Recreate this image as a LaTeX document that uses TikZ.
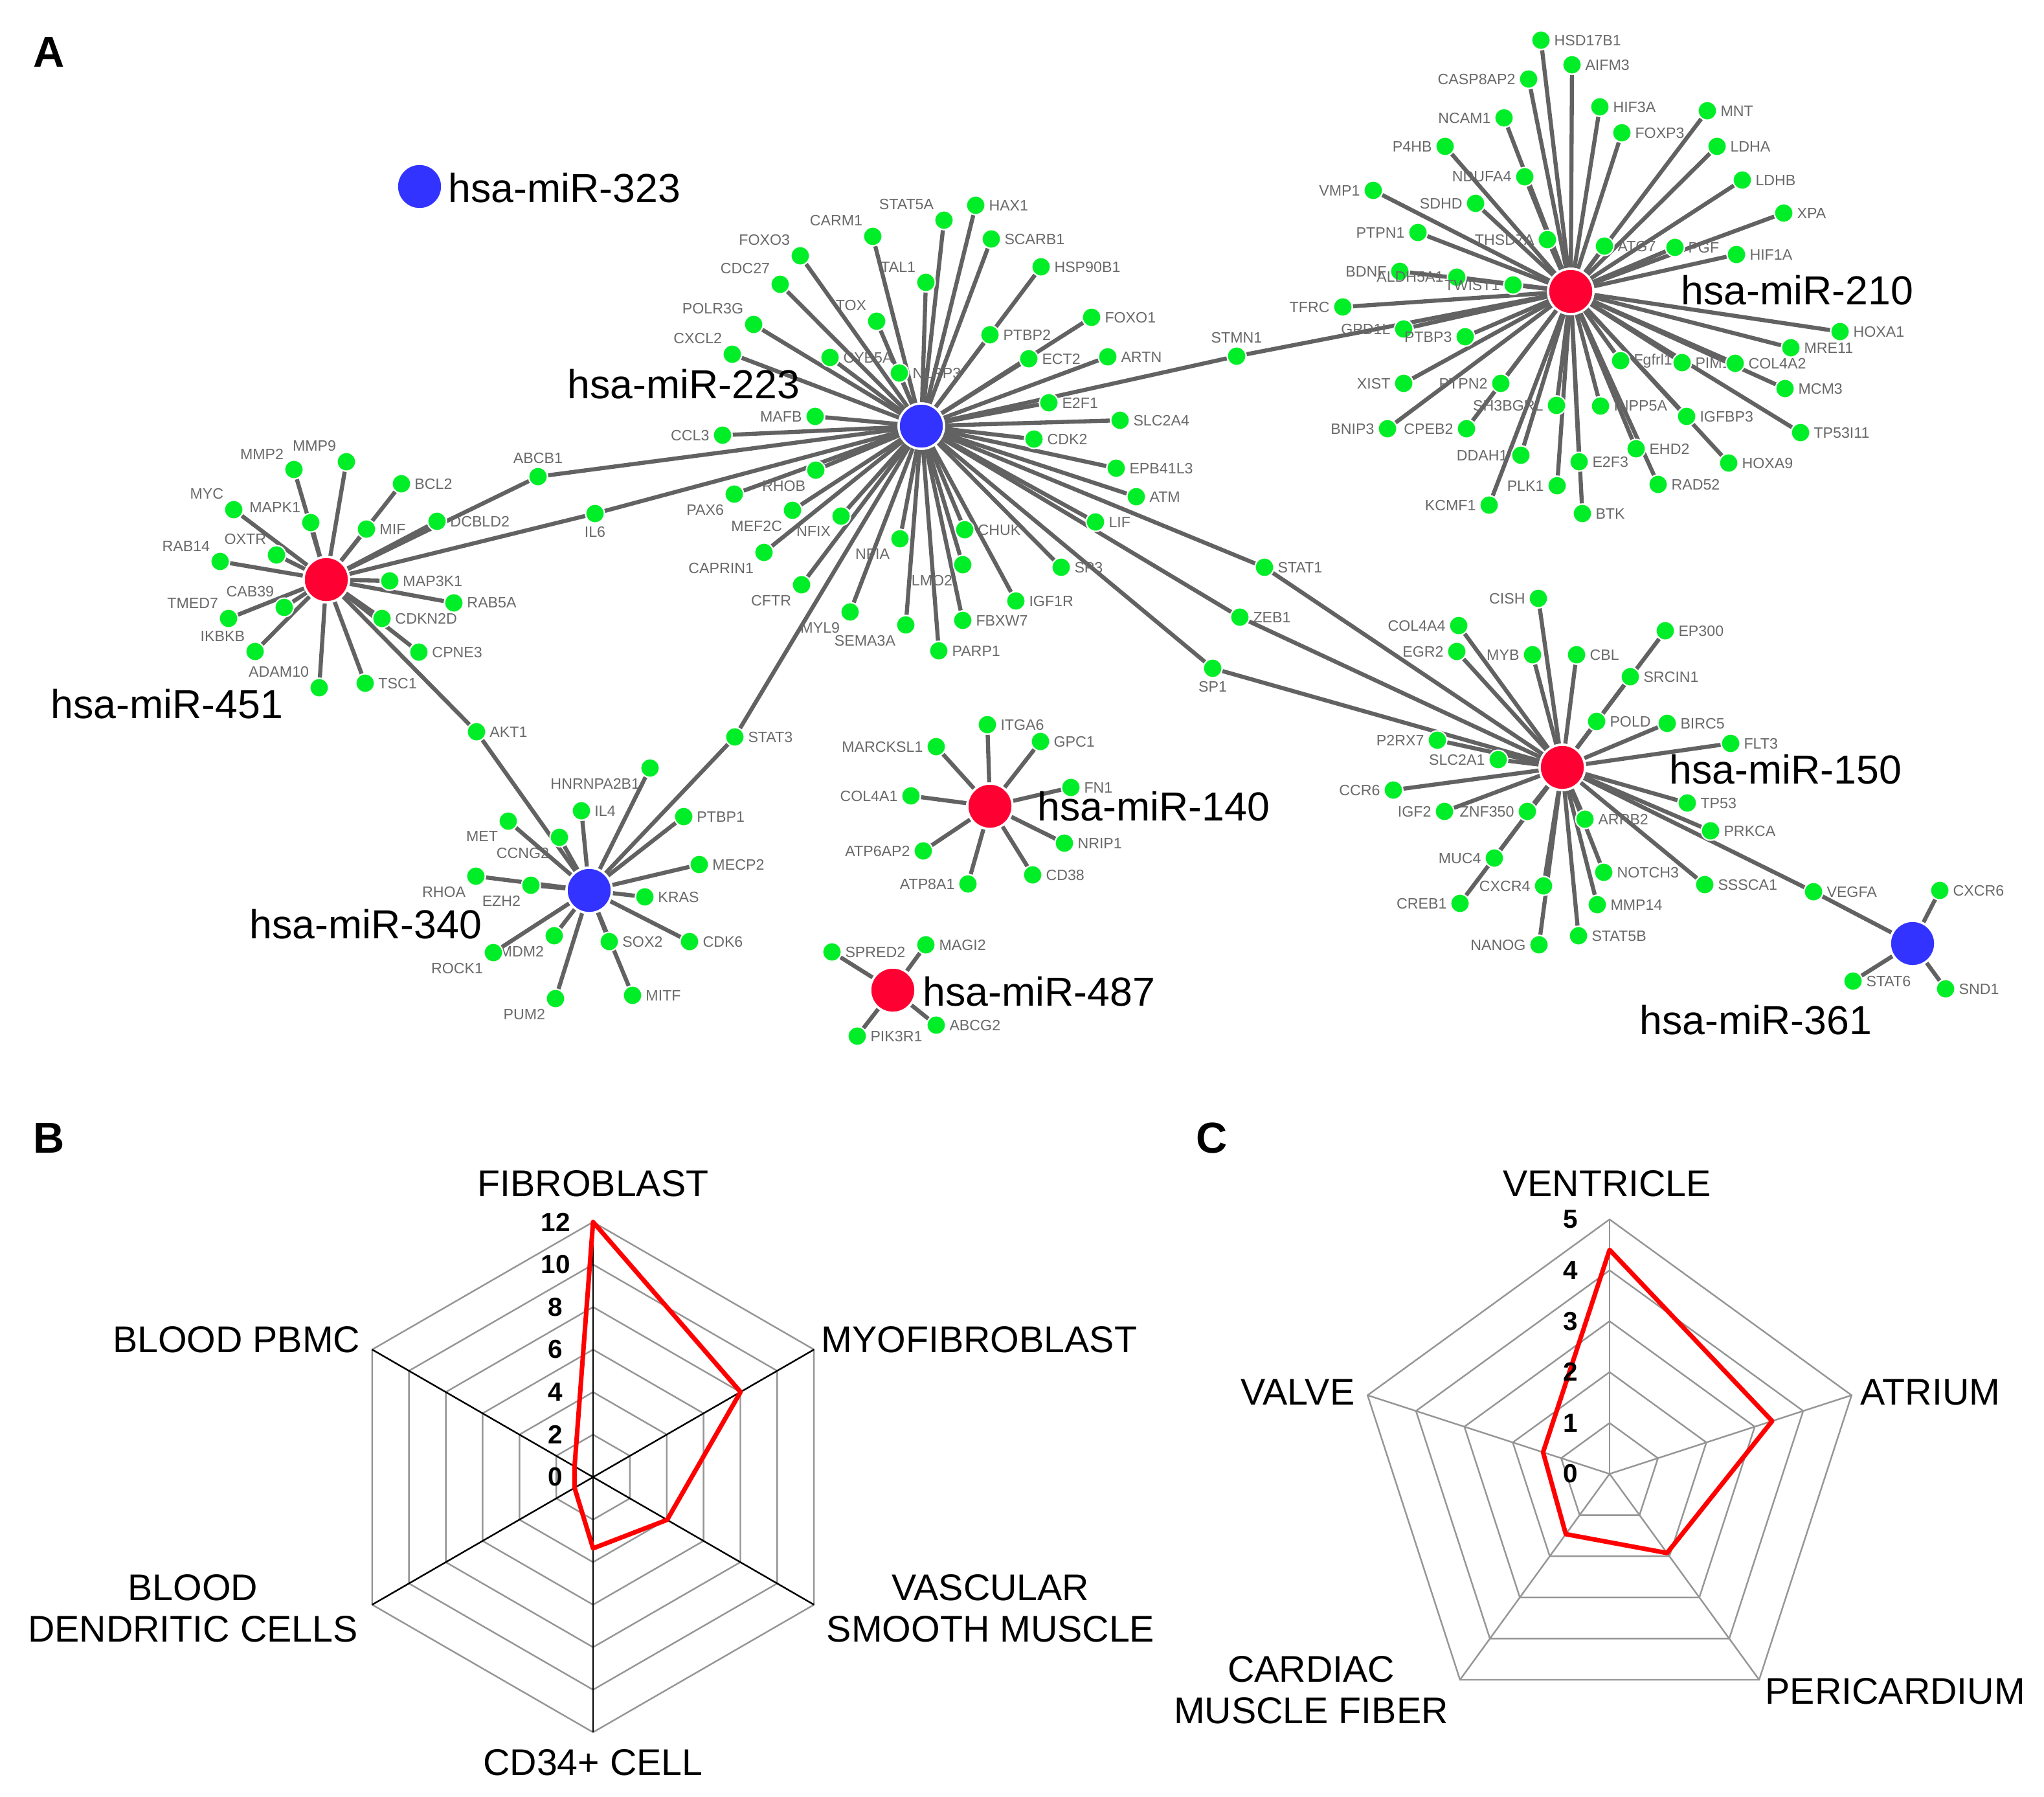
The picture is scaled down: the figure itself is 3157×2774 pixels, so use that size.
\documentclass[tikz,border=0pt]{standalone}
\usepackage{fontspec}
\setmainfont{Liberation Sans}
\usetikzlibrary{backgrounds}
\definecolor{gnode}{RGB}{0,238,40}
\definecolor{rnode}{RGB}{255,0,51}
\definecolor{bnode}{RGB}{51,51,255}
\definecolor{egray}{RGB}{98,98,98}
\definecolor{tgray}{RGB}{105,105,105}
\definecolor{rgray}{RGB}{150,150,150}
\begin{document}
\begin{tikzpicture}[x=0.01cm, y=-0.01cm,
    gene/.style={circle, fill=gnode, draw=white, line width=0.6pt, minimum size=0.29cm, inner sep=0pt},
    glbl/.style={text=tgray, font=\fontsize{6.6}{7}\selectfont, inner sep=1.2pt},
    hubR/.style={circle, fill=rnode, draw=white, line width=1pt, minimum size=0.7cm, inner sep=0pt},
    hubB/.style={hubR, fill=bnode},
    hubtxt/.style={font=\fontsize{17.8}{20}\selectfont, inner sep=0pt},
    link/.style={draw=egray, line width=1.8pt},
    panel/.style={font=\fontsize{19}{22}\selectfont\bfseries, inner sep=0pt},
    ring/.style={draw=rgray, line width=0.7pt},
    spoke/.style={draw=black, line width=0.7pt},
    val/.style={draw=red, line width=2pt, line join=round},
    axtxt/.style={font=\fontsize{16.3}{18.3}\selectfont, inner sep=0pt, align=center},
    num/.style={font=\fontsize{11.5}{13}\selectfont\bfseries, inner sep=0pt}]
\useasboundingbox (0,0) rectangle (3157,2774);

% panel A: network
\node[panel] (pA) at (76,80) {A};
\node[hubB] (m323) at (648,288) {};
\node[hubR] (m451) at (504,895) {};
\node[hubB] (m223) at (1423,658) {};
\node[hubR] (m210) at (2426,450) {};
\node[hubR] (m150) at (2413,1185) {};
\node[hubB] (m361) at (2954,1457) {};
\node[hubB] (m340) at (910,1375) {};
\node[hubR] (m140) at (1529,1245) {};
\node[hubR] (m487) at (1379,1529) {};

\node[hubtxt] (t323) at (872,290) {hsa-miR-323};
\node[hubtxt] (t451) at (258,1087) {hsa-miR-451};
\node[hubtxt] (t223) at (1056,593) {hsa-miR-223};
\node[hubtxt] (t210) at (2776,448) {hsa-miR-210};
\node[hubtxt] (t150) at (2758,1188) {hsa-miR-150};
\node[hubtxt] (t361) at (2712,1575) {hsa-miR-361};
\node[hubtxt] (t340) at (565,1427) {hsa-miR-340};
\node[hubtxt] (t140) at (1782,1245) {hsa-miR-140};
\node[hubtxt] (t487) at (1605,1531) {hsa-miR-487};

% targets
\foreach \g/\x/\y/\p in {MMP2/454/725/above left, MMP9/535/713/above left, BCL2/620/747/right,
    MYC/361/787/above left, MAPK1/480/807/above left, MIF/566/817/right, DCBLD2/675/805/right,
    ABCB1/831/736/above, IL6/919/793/below, RAB14/340/867/above left, OXTR/427/857/above left,
    MAP3K1/602/897/right, RAB5A/701/931/right, CAB39/439/938/above left, TMED7/353/955/above left,
    CDKN2D/590/955/right, IKBKB/394/1006/above left, CPNE3/647/1007/right,
    ADAM10/493/1062/above left, TSC1/564/1055/right, AKT1/736/1130/right}
  \node[gene, label={[glbl]\p:\g}] (\g) at (\x,\y) {};
\foreach \g/\x/\y/\p in {FOXO3/1236/395/above left, CARM1/1348/365/above left, CDC27/1205/439/above left,
    TOX/1354/496/above left, POLR3G/1164/501/above left, CXCL2/1131/547/above left,
    CYB5A/1282/552/right, NLRP3/1389/576/right, MAFB/1259/643/left, CCL3/1116/672/left,
    STAT5A/1458/340/above left, HAX1/1507/317/right, SCARB1/1531/369/right, TAL1/1430/436/above left,
    HSP90B1/1608/412/right, FOXO1/1686/490/right, PTBP2/1529/517/right, ECT2/1589/554/right,
    ARTN/1711/551/right, STMN1/1910/550/above, E2F1/1620/622/right, SLC2A4/1730/649/right,
    CDK2/1597/678/right, EPB41L3/1724/723/right, ATM/1755/767/right, RHOB/1260/726/below left,
    PAX6/1134/763/below left, MEF2C/1224/788/below left, NFIX/1299/797/below left,
    CAPRIN1/1180/853/below left, NFIA/1390/832/below left, CFTR/1238/903/below left,
    LMO2/1487/872/below left, MYL9/1313/945/below left, SEMA3A/1399/965/below left,
    CHUK/1490/818/right, FBXW7/1487/958/right, PARP1/1450/1005/right, IGF1R/1569/928/right,
    SP3/1639/876/right, LIF/1692/806/right, STAT1/1953/876/right, ZEB1/1915/953/right,
    SP1/1873/1032/below, STAT3/1135/1138/right}
  \node[gene, label={[glbl]\p:\g}] (\g) at (\x,\y) {};
\foreach \g/\x/\y/\p in {HSD17B1/2380/62/right, AIFM3/2428/100/right, CASP8AP2/2361/122/left,
    HIF3A/2471/165/right, NCAM1/2323/182/left, FOXP3/2505/205/right, P4HB/2232/226/left,
    NDUFA4/2355/273/left, VMP1/2121/294/left, SDHD/2279/314/left, PTPN1/2190/359/left,
    THSD7A/2390/370/left, ATG7/2478/380/right, MNT/2637/171/right, LDHA/2652/226/right,
    LDHB/2691/278/right, XPA/2755/329/right, PGF/2587/382/right, HIF1A/2682/393/right,
    BDNF/2162/419/left, ALDH5A1/2250/428/left, TWIST1/2337/440/left, TFRC/2074/474/left,
    GPD1L/2168/508/left, PTBP3/2263/520/left, XIST/2168/592/left, PTPN2/2318/592/left,
    SH3BGRL/2404/626/left, INPP5A/2472/627/right, Fgfrl1/2503/557/right, PIM1/2598/560/right,
    COL4A2/2680/561/right, HOXA1/2842/512/right, MRE11/2766/537/right, MCM3/2757/600/right,
    BNIP3/2143/662/left, CPEB2/2265/662/left, IGFBP3/2605/643/right, TP53I11/2781/668/right,
    DDAH1/2349/703/left, E2F3/2439/713/right, EHD2/2527/693/right, HOXA9/2670/715/right,
    PLK1/2405/750/left, RAD52/2561/748/right, KCMF1/2300/780/left, BTK/2444/793/right}
  \node[gene, label={[glbl]\p:\g}] (\g) at (\x,\y) {};
\foreach \g/\x/\y/\p in {CISH/2376/924/left, COL4A4/2253/966/left, EGR2/2250/1006/left,
    MYB/2367/1011/left, CBL/2435/1011/right, EP300/2572/974/right, SRCIN1/2518/1045/right,
    POLD/2466/1114/right, BIRC5/2575/1117/right, FLT3/2673/1148/right, P2RX7/2220/1143/left,
    SLC2A1/2314/1173/left, CCR6/2152/1220/left, TP53/2606/1240/right, IGF2/2231/1253/left,
    ZNF350/2359/1253/left, ARRB2/2448/1265/right, PRKCA/2642/1283/right, MUC4/2308/1325/left,
    NOTCH3/2477/1347/right, SSSCA1/2633/1366/right, VEGFA/2801/1377/right, CXCR4/2384/1368/left,
    CREB1/2255/1395/left, MMP14/2467/1397/right, STAT5B/2438/1445/right, NANOG/2377/1459/left,
    CXCR6/2996/1375/right, STAT6/2862/1515/right, SND1/3005/1527/right}
  \node[gene, label={[glbl]\p:\g}] (\g) at (\x,\y) {};
\foreach \g/\x/\y/\p in {HNRNPA2B1/1004/1186/below left, IL4/898/1252/right, PTBP1/1056/1261/right,
    MET/785/1268/below left, CCNG2/864/1293/below left, MECP2/1080/1335/right,
    RHOA/735/1353/below left, EZH2/820/1367/below left, KRAS/996/1385/right,
    MDM2/856/1445/below left, ROCK1/762/1471/below left, SOX2/941/1454/right,
    CDK6/1065/1454/right, PUM2/858/1542/below left, MITF/977/1537/right,
    ITGA6/1525/1119/right, MARCKSL1/1446/1153/left, GPC1/1607/1145/right, COL4A1/1407/1229/left,
    FN1/1654/1216/right, ATP6AP2/1426/1314/left, NRIP1/1644/1302/right, ATP8A1/1495/1365/left,
    CD38/1595/1351/right, SPRED2/1285/1470/right, MAGI2/1430/1459/right,
    ABCG2/1446/1583/right, PIK3R1/1324/1600/right}
  \node[gene, label={[glbl]\p:\g}] (\g) at (\x,\y) {};

\begin{pgfonlayer}{background}
\foreach \g in {MMP2, MMP9, BCL2, MYC, MAPK1, MIF, DCBLD2, ABCB1, IL6, RAB14, OXTR, MAP3K1,
    RAB5A, CAB39, TMED7, CDKN2D, IKBKB, CPNE3, ADAM10, TSC1, AKT1}
  \draw[link] (m451) -- (\g);
\foreach \g in {FOXO3, CARM1, CDC27, TOX, POLR3G, CXCL2, CYB5A, NLRP3, MAFB, CCL3, STAT5A, HAX1,
    SCARB1, TAL1, HSP90B1, FOXO1, PTBP2, ECT2, ARTN, STMN1, E2F1, SLC2A4, CDK2, EPB41L3, ATM,
    RHOB, PAX6, MEF2C, NFIX, CAPRIN1, NFIA, CFTR, LMO2, MYL9, SEMA3A, CHUK, FBXW7, PARP1,
    IGF1R, SP3, LIF, STAT1, ZEB1, SP1, STAT3, ABCB1, IL6}
  \draw[link] (m223) -- (\g);
\foreach \g in {HSD17B1, AIFM3, CASP8AP2, HIF3A, NCAM1, FOXP3, P4HB, NDUFA4, VMP1, SDHD, PTPN1,
    THSD7A, ATG7, MNT, LDHA, LDHB, XPA, PGF, HIF1A, BDNF, ALDH5A1, TWIST1, TFRC, GPD1L, PTBP3,
    XIST, PTPN2, SH3BGRL, INPP5A, Fgfrl1, PIM1, COL4A2, HOXA1, MRE11, MCM3, BNIP3, CPEB2,
    IGFBP3, TP53I11, DDAH1, E2F3, EHD2, HOXA9, PLK1, RAD52, KCMF1, BTK, STMN1}
  \draw[link] (m210) -- (\g);
\foreach \g in {CISH, COL4A4, EGR2, MYB, CBL, EP300, SRCIN1, POLD, BIRC5, FLT3, P2RX7, SLC2A1,
    CCR6, TP53, IGF2, ZNF350, ARRB2, PRKCA, MUC4, NOTCH3, SSSCA1, VEGFA, CXCR4, CREB1,
    MMP14, STAT5B, NANOG, STAT1, ZEB1, SP1}
  \draw[link] (m150) -- (\g);
\foreach \g in {CXCR6, STAT6, SND1, VEGFA}
  \draw[link] (m361) -- (\g);
\foreach \g in {HNRNPA2B1, IL4, PTBP1, MET, CCNG2, MECP2, RHOA, EZH2, KRAS, MDM2, ROCK1, SOX2,
    CDK6, PUM2, MITF, AKT1, STAT3}
  \draw[link] (m340) -- (\g);
\foreach \g in {ITGA6, MARCKSL1, GPC1, COL4A1, FN1, ATP6AP2, NRIP1, ATP8A1, CD38}
  \draw[link] (m140) -- (\g);
\foreach \g in {SPRED2, MAGI2, ABCG2, PIK3R1}
  \draw[link] (m487) -- (\g);
\end{pgfonlayer}

% panel B: cell types
\node[panel] (pB) at (76,1757) {B};
\begin{scope}[shift={(916,2281)}, y=0.01cm]
  \foreach \k in {1,...,6} {
    \pgfmathsetmacro\r{\k*394/6}
    \draw[ring] (90:\r) -- (30:\r) -- (-30:\r) -- (-90:\r) -- (-150:\r) -- (150:\r) -- cycle;
  }
  \draw[spoke] (90:394) -- (-90:394);
  \draw[spoke] (150:394) -- (-30:394);
  \draw[spoke] (30:394) -- (-150:394);
  \draw[val] (90:394) -- (30:263) -- (-30:132) -- (-90:110) -- (-150:33) -- (150:33) -- cycle;
  \foreach \k in {0,...,6} {
    \pgfmathtruncatemacro\v{2*\k}
    \node[num] (bn\k) at (-58,\k*65.67) {\v};
  }
\end{scope}
\node[axtxt] (bFib) at (916,1828) {FIBROBLAST};
\node[axtxt, anchor=west] (bMyo) at (1268,2069) {MYOFIBROBLAST};
\node[axtxt] (bVsm) at (1530,2484) {VASCULAR\\SMOOTH MUSCLE};
\node[axtxt] (bCd) at (916,2722) {CD34+ CELL};
\node[axtxt] (bDc) at (298,2484) {BLOOD\\DENDRITIC CELLS};
\node[axtxt, anchor=east] (bPb) at (557,2069) {BLOOD PBMC};

% panel C: heart regions
\node[panel] (pC) at (1872,1757) {C};
\begin{scope}[shift={(2486,2276)}, y=0.01cm]
  \foreach \k in {1,...,5} {
    \pgfmathsetmacro\r{\k*393/5}
    \draw[ring] (90:\r) -- (18:\r) -- (-54:\r) -- (-126:\r) -- (162:\r) -- cycle;
  }
  \foreach \a in {90,18,-54,-126,162}
    \draw[ring] (0,0) -- (\a:393);
  \draw[val] (90:346) -- (18:264) -- (-54:151) -- (-126:115) -- (162:108) -- cycle;
  \foreach \k in {0,...,5}
    \node[num] (cn\k) at (-60,\k*78.6) {\k};
\end{scope}
\node[axtxt] (cVen) at (2482,1828) {VENTRICLE};
\node[axtxt, anchor=west] (cAtr) at (2873,2150) {ATRIUM};
\node[axtxt, anchor=west] (cPer) at (2726,2612) {PERICARDIUM};
\node[axtxt] (cCmf) at (2025,2610) {CARDIAC\\MUSCLE FIBER};
\node[axtxt, anchor=east] (cVal) at (2093,2150) {VALVE};
\end{tikzpicture}
\end{document}
